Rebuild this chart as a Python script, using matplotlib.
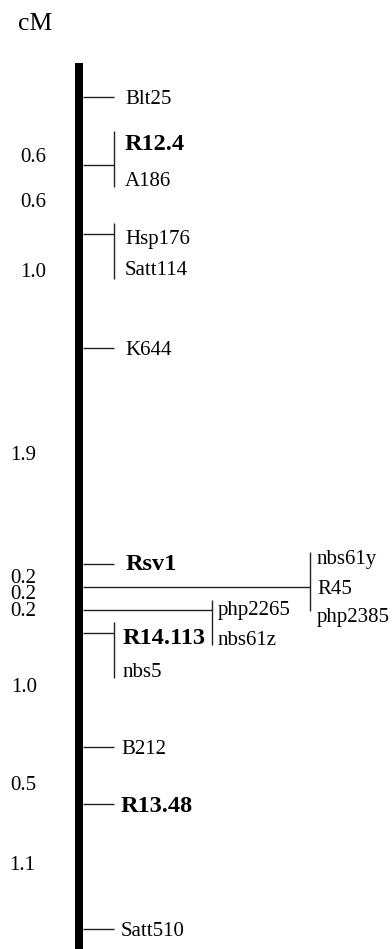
import matplotlib
matplotlib.use('Agg')
import matplotlib.pyplot as plt
from matplotlib.patches import Rectangle

# map positions (cumulative cM) and the markers at each locus
locus_cm = [0.0, 0.6, 1.2, 2.2, 4.1, 4.3, 4.5, 4.7, 5.7, 6.2, 7.3]
locus_names = [["Blt25"], ["R12.4", "A186"], ["Hsp176", "Satt114"], ["K644"],
               ["Rsv1"], ["nbs61y", "R45", "php2385"], ["php2265", "nbs61z"],
               ["R14.113", "nbs5"], ["B212"], ["R13.48"], ["Satt510"]]
bold_names = {"R12.4", "Rsv1", "R14.113", "R13.48"}
interval_cm = [0.6, 0.6, 1.0, 1.9, 0.2, 0.2, 0.2, 1.0, 0.5, 1.1]

# layout (pixels)
PX_PER_CM = 114.0
TOP_PX = 97.0
branch_end = [114, 114, 114, 114, 114, 310, 212, 114, 114, 114, 114]
text_gap = [11, 11, 11, 11, 12, 7, 6, 9, 7, 7, 7]
name_dy = [[0], [-23, 14], [3, 34], [0], [-2], [-30, 0, 28], [-2, 28], [3, 37],
           [0], [0], [0]]
bracket_dy = [None, [-34, 22], [-11, 45], None, None, [-35, 24], [-10, 35],
              [-11, 45], None, None, None]
interval_nudge = [24, 0, -21, -3, 1, -5, -13, -5, 8, -4]
interval_right = [46, 46, 46, 36, 36, 36, 36, 37, 36, 35]
# short intervals whose labels are stacked as one block
stacked = [[0], [1], [2], [3], [4, 5, 6], [7], [8], [9]]

W, H = 392, 949
fig = plt.figure(figsize=(W / 100, H / 100), dpi=100)
ax = fig.add_axes([0, 0, 1, 1])
ax.set_xlim(0, W)
ax.set_ylim((H - TOP_PX) / PX_PER_CM, -TOP_PX / PX_PER_CM)
ax.axis('off')

px = 1.0 / PX_PER_CM
serif = ['Liberation Serif', 'DejaVu Serif']

# chromosome bar
bar_top = -34 * px
ax.add_patch(Rectangle((75, bar_top), 8, 20, color='black', lw=0))

line_kw = dict(color='#222222', lw=1.0, solid_capstyle='butt')
for i, (y, names) in enumerate(zip(locus_cm, locus_names)):
    ax.plot([83, branch_end[i]], [y, y], **line_kw)
    if bracket_dy[i] is not None:
        b0, b1 = bracket_dy[i]
        ax.plot([branch_end[i], branch_end[i]], [y + b0 * px, y + b1 * px], **line_kw)
    for name, dy in zip(names, name_dy[i]):
        is_bold = name in bold_names
        ax.text(branch_end[i] + text_gap[i], y + dy * px, name,
                family=serif, fontsize=17.5 if is_bold else 15,
                fontweight='bold' if is_bold else 'normal',
                ha='left', va='center_baseline', color='black')

# interval distances on the left
for grp in stacked:
    ys = [(locus_cm[i] + locus_cm[i + 1]) / 2 + interval_nudge[i] * px for i in grp]
    label = "\n".join(f"{interval_cm[i]:.1f}" for i in grp)
    if len(grp) == 1:
        ax.text(interval_right[grp[0]], ys[0], label, family=serif, fontsize=15,
                ha='right', va='center_baseline', color='black')
    else:
        ax.text(interval_right[grp[0]], sum(ys) / len(ys) + 2 * px, label,
                family=serif, fontsize=15, ha='right', va='center',
                linespacing=0.8, color='black')

ax.text(18, 21 * px - TOP_PX * px, "cM", family=serif, fontsize=18.5,
        ha='left', va='center_baseline', color='black')

fig.savefig('out.png', dpi=100)
